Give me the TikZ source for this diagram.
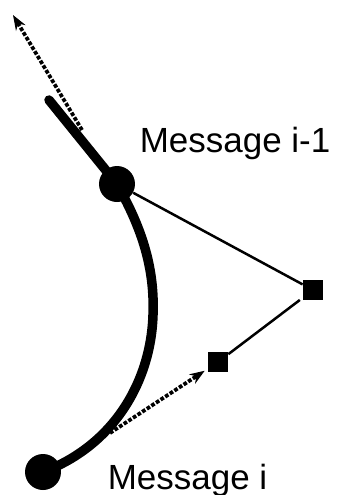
\documentclass[tikz,border=0pt]{standalone}
\usepackage{fontspec}
\setmainfont{Liberation Sans}
\usetikzlibrary{arrows.meta}
\begin{document}
\begin{tikzpicture}[x=0.02cm, y=-0.02cm, >={Stealth[length=0.3cm, width=0.22cm]},
	font=\fontsize{19.9}{24}\selectfont,
	msg/.style={circle, fill, inner sep=0, minimum size=0.72cm},
	ctrl/.style={rectangle, fill, inner sep=0, minimum size=0.4cm},
	thin line/.style={line width=0.05cm},
	tangent/.style={densely dotted, line width=0.075cm, ->}]
	\useasboundingbox (0,0) rectangle (340,495);
	% the two messages and their control points
	\coordinate (tail) at (49,100);
	\coordinate (A) at (117,184);
	\coordinate (B) at (43,472);
	\draw[line width=0.19cm, line cap=round] (tail)--(A) .. controls (140,225) and (155,265) .. (153,315) .. controls (151,380) and (115,445) .. (B);
	\node[msg] (msgA) at (A) {};
	\node[msg] (msgB) at (B) {};
	\node[ctrl] (ctrlA) at (313,290) {};
	\node[ctrl] (ctrlB) at (218,362) {};
	\draw[thin line] (msgA)--(ctrlA);
	\draw[thin line, shorten <=2pt] (ctrlA)--(ctrlB);
	% tangent arrows
	\coordinate (tA) at (82,130);
	\coordinate (headA) at (13,15);
	\draw[tangent] (tA)--(headA);
	\coordinate (tB) at (110,433);
	\draw[tangent, shorten >=2pt] (tB)--(ctrlB);
	\node[anchor=base west, inner sep=0] (lblA) at (139.5,152) {Message i-1};
	\node[anchor=base west, inner sep=0] (lblB) at (107.5,489) {Message i};
\end{tikzpicture}
\end{document}
